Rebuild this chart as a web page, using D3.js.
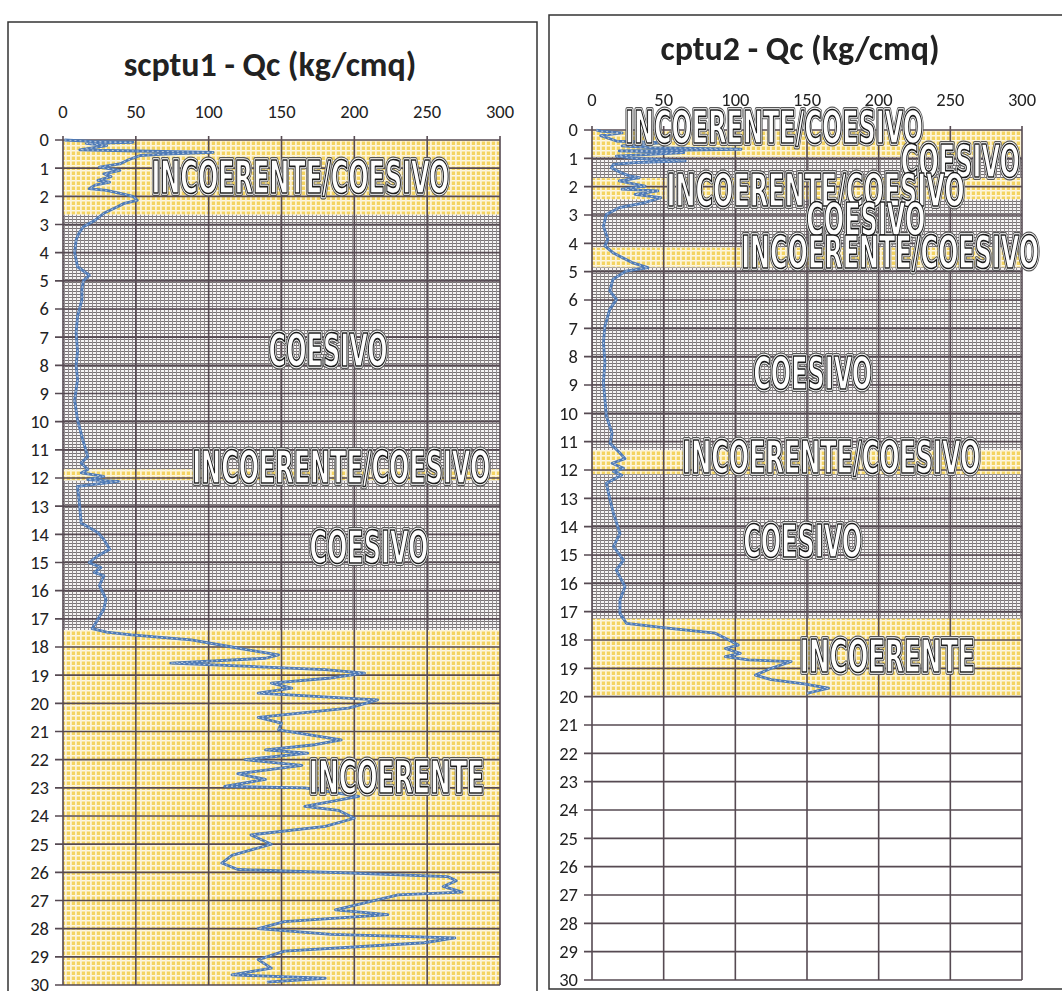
<!DOCTYPE html>
<html lang="it">
<head>
<meta charset="utf-8">
<title>scptu1 / cptu2 - Qc</title>
<script src="https://cdn.jsdelivr.net/npm/d3@7/dist/d3.min.js"></script>
<style>
    body { margin: 0; background: #fff; }
    .tick-lbl { font-family: Carlito, Lato, "Liberation Sans", sans-serif; font-size: 18.5px; fill: #222; }
    .title { font-family: Carlito, Lato, "Liberation Sans", sans-serif; font-size: 34px; font-weight: bold; fill: #222; }
    .layer-lbl { font-family: "Liberation Sans Narrow", "DejaVu Sans Condensed", "Liberation Sans", sans-serif; font-weight: bold; font-size: 45px; }
    .lbl-group { opacity: 0.995; will-change: transform; }
</style>
</head>
<body>
<div id="chart"></div>
<script>

var qcTicks = [0, 50, 100, 150, 200, 250, 300];
var depthTicks = d3.range(0, 31);

// scptu1
var depth1 = [0, 0.05, 0.08, 0.12, 0.2, 0.35, 0.4, 0.44, 0.5, 0.55,
    0.7, 0.85, 0.96, 1.08, 1.2, 1.3, 1.43, 1.5, 1.6, 1.73,
    1.79, 1.9, 2.0, 2.14, 2.25, 2.38, 2.6, 2.85, 3.08, 3.3,
    3.55, 4.0, 4.5, 4.8, 5.0, 5.3, 5.67, 6.26, 6.85, 7.5,
    8.0, 8.5, 9.24, 9.94, 10.65, 11.24, 11.47, 11.7, 11.82, 11.94,
    12.06, 12.12, 12.3, 12.76, 13.6, 13.94, 14.18, 14.53, 14.76, 15.0,
    15.18, 15.35, 15.47, 15.82, 16.3, 16.65, 17.1, 17.35, 17.47, 17.57,
    17.75, 18.0, 18.1, 18.28, 18.4, 18.57, 18.8, 18.93, 19.1, 19.28,
    19.46, 19.64, 19.88, 20.17, 20.5, 20.7, 20.94, 21.3, 21.47, 21.65,
    21.77, 22.0, 22.2, 22.5, 22.7, 22.95, 23.0, 23.3, 23.66, 23.8,
    24.08, 24.37, 24.67, 25.0, 25.4, 25.67, 25.9, 26.0, 26.15, 26.3,
    26.5, 26.7, 26.8, 27.33, 27.5, 27.75, 28.0, 28.2, 28.33, 28.5,
    28.8, 29.1, 29.4, 29.64, 29.76, 29.9];
var qc1 = [1, 20, 48, 16, 30, 11.5, 60, 103, 70, 53,
    45, 39, 25, 39, 28, 33, 24, 32, 22, 18,
    30, 40, 48, 51, 42, 37, 28, 22, 14, 11,
    9, 8, 10, 18, 14, 13, 13, 10, 9, 10,
    9, 10, 8, 10, 13.6, 17, 12.5, 17, 12.5, 28,
    17, 38, 10, 11, 12.5, 24, 28, 32, 24, 18,
    26, 21.5, 28, 25, 29.5, 28, 23, 20, 30, 47,
    88, 116, 127, 148, 139, 74, 180, 207, 184, 143,
    157, 134, 216, 196, 134, 150, 148, 191, 173, 139,
    168, 125, 164, 120, 139, 111, 166, 203, 166, 189,
    200, 180, 129, 143, 116, 109, 120, 184, 264, 270,
    261, 274, 230, 187, 223, 152, 134, 184, 269, 248,
    152, 134, 143, 116, 180, 140];

// cptu2
var depth2 = [0, 0.04, 0.1, 0.2, 0.3, 0.39, 0.45, 0.56, 0.62, 0.68,
    0.74, 0.8, 0.92, 1.0, 1.09, 1.15, 1.21, 1.33, 1.5, 1.62,
    1.68, 1.8, 1.98, 2.09, 2.15, 2.27, 2.39, 2.56, 2.74, 2.98,
    3.39, 3.86, 4.09, 4.33, 4.5, 4.68, 4.86, 4.98, 5.27, 5.68,
    5.98, 6.33, 6.92, 7.5, 8.2, 8.9, 9.5, 10.1, 10.7, 11.06,
    11.4, 11.6, 11.76, 11.94, 12.06, 12.18, 12.47, 13.06, 13.53, 14.24,
    14.7, 15.18, 15.53, 16.12, 16.59, 17.06, 17.41, 17.6, 17.76, 18.0,
    18.18, 18.3, 18.47, 18.59, 18.7, 18.76, 19.0, 19.24, 19.4, 19.55,
    19.7, 19.88];
var qc2 = [3, 6, 21, 6, 12, 17, 48, 21, 40, 104,
    19, 64, 17, 30, 65, 30, 15, 13.5, 20, 26,
    33, 19, 37, 21, 46, 30, 48, 37, 19, 10,
    8, 11, 9, 14.6, 21, 28, 39, 23.6, 14.6, 12.4,
    17, 12.4, 9, 8, 9, 8, 9, 10, 14, 12.6,
    19.5, 23, 14, 22, 15, 20.7, 10, 12.6, 15, 19.5,
    15, 22, 17, 23, 19.5, 19.5, 24, 56, 86, 95.5,
    102, 93, 103.5, 93, 109, 139, 125, 114, 125, 148,
    165, 150];

// soil layers (depth from / to, type)
var layerTop1 = [0, 2.65, 11.7, 12.1, 17.4];
var layerBottom1 = [2.65, 11.7, 12.1, 17.4, 30];
var layerType1 = ["INCOERENTE/COESIVO", "COESIVO", "INCOERENTE/COESIVO", "COESIVO", "INCOERENTE"];

var layerTop2 = [0, 0.95, 1.7, 2.45, 4.15, 4.85, 11.3, 12.15, 17.25];
var layerBottom2 = [0.95, 1.7, 2.45, 4.15, 4.85, 11.3, 12.15, 17.25, 20];
var layerType2 = ["INCOERENTE/COESIVO", "COESIVO", "INCOERENTE/COESIVO", "COESIVO",
    "INCOERENTE/COESIVO", "COESIVO", "INCOERENTE/COESIVO", "COESIVO", "INCOERENTE"];

// written labels on the charts
var labelText1 = ["INCOERENTE/COESIVO", "COESIVO", "INCOERENTE/COESIVO", "COESIVO", "INCOERENTE"];
var labelText2 = ["INCOERENTE/COESIVO", "COESIVO", "INCOERENTE/COESIVO", "COESIVO",
    "INCOERENTE/COESIVO", "COESIVO", "INCOERENTE/COESIVO", "COESIVO", "INCOERENTE"];

var width = 1062, height = 991;

var svg = d3.select("#chart").append("svg")
    .attr("width", width)
    .attr("height", height);

var defs = svg.append("defs");

// yellow hatched fill
var py = defs.append("pattern").attr("id", "yel")
    .attr("patternUnits", "userSpaceOnUse").attr("width", 5).attr("height", 5);
py.append("rect").attr("width", 5).attr("height", 5).attr("fill", "#f4d461");
py.append("rect").attr("width", 5).attr("height", 1.5).attr("fill", "#fdf7e2");
py.append("rect").attr("width", 1.8).attr("height", 5).attr("fill", "#fcf3d6");

// grey grid fill
var pg = defs.append("pattern").attr("id", "gry")
    .attr("patternUnits", "userSpaceOnUse").attr("width", 4).attr("height", 3);
pg.append("rect").attr("width", 4).attr("height", 3).attr("fill", "#f6f4f4");
pg.append("rect").attr("width", 4).attr("height", 1).attr("fill", "#777274");
pg.append("rect").attr("width", 1).attr("height", 3).attr("fill", "#928c8e");

// frames
svg.append("rect").attr("x", 8).attr("y", 22).attr("width", 529).attr("height", 990)
    .attr("fill", "none").attr("stroke", "#333").attr("stroke-width", 1.5);
svg.append("rect").attr("x", 549).attr("y", 15).attr("width", 530).attr("height", 974)
    .attr("fill", "none").attr("stroke", "#333").attr("stroke-width", 1.5);

function drawChart(cfg) {
    var g = svg.append("g");

    var x = d3.scaleLinear().domain([0, 300]).range([cfg.x0, cfg.x1]);
    var y = d3.scaleLinear().domain([0, 30]).range([cfg.y0, cfg.y1]);

    // layer bands
    var layers = cfg.top.map(function(t, i) {
        return {top: t, bottom: cfg.bottom[i], type: cfg.type[i]};
    });
    g.selectAll(".band")
        .data(layers).enter()
        .append("rect")
        .attr("class", "band")
        .attr("x", x(0))
        .attr("y", function(d) { return y(d.top); })
        .attr("width", x(300) - x(0))
        .attr("height", function(d) { return y(d.bottom) - y(d.top); })
        .attr("fill", function(d) { return d.type == "COESIVO" ? "url(#gry)" : "url(#yel)"; });

    // main grid
    g.selectAll(".vgrid")
        .data(qcTicks).enter()
        .append("line")
        .attr("x1", function(d) { return x(d); })
        .attr("x2", function(d) { return x(d); })
        .attr("y1", y(0) - 4)
        .attr("y2", y(30))
        .attr("stroke", "#564a52")
        .attr("stroke-width", 1.6);

    g.selectAll(".hgrid")
        .data(depthTicks).enter()
        .append("line")
        .attr("x1", x(0) - 8)
        .attr("x2", x(300))
        .attr("y1", function(d) { return y(d); })
        .attr("y2", function(d) { return y(d); })
        .attr("stroke", "#564a52")
        .attr("stroke-width", 1.6);

    // axis labels
    g.selectAll(".xl")
        .data(qcTicks).enter()
        .append("text")
        .attr("class", "tick-lbl")
        .attr("x", function(d) { return x(d); })
        .attr("y", cfg.xLabelY)
        .attr("text-anchor", "middle")
        .text(function(d) { return d; });

    g.selectAll(".yl")
        .data(depthTicks).enter()
        .append("text")
        .attr("class", "tick-lbl")
        .attr("x", x(0) - 14)
        .attr("y", function(d) { return y(d); })
        .attr("dy", "0.35em")
        .attr("text-anchor", "end")
        .text(function(d) { return d; });

    // title
    g.append("text")
        .attr("class", "title")
        .attr("x", cfg.titleX)
        .attr("y", cfg.titleY)
        .attr("text-anchor", "middle")
        .text(cfg.title);

    // qc profile
    var pts = cfg.depth.map(function(d, i) { return [cfg.qc[i], d]; });
    var line = d3.line()
        .x(function(d) { return x(d[0]); })
        .y(function(d) { return y(d[1]); });

    g.append("path")
        .datum(pts)
        .attr("d", line)
        .attr("fill", "none")
        .attr("stroke", "#4d79b6")
        .attr("stroke-width", 2.8)
        .attr("stroke-linejoin", "round");
    g.append("path")
        .datum(pts)
        .attr("d", line)
        .attr("fill", "none")
        .attr("stroke", "#b9c8da")
        .attr("stroke-width", 1)
        .attr("stroke-dasharray", "2,3");

    // outlined layer names
    var widths = {"INCOERENTE/COESIVO": 298, "COESIVO": 119, "INCOERENTE": 175};
    var labels = cfg.labels.map(function(t, i) {
        return {text: t, qc: cfg.labelQc[i], depth: cfg.labelDepth[i]};
    });
    var lg = g.append("g").attr("class", "lbl-group");
    [{s: "#555", w: 6, f: "none"}, {s: "#fff", w: 3.6, f: "none"}, {s: "#1a1a1a", w: 1.6, f: "#fff"}]
        .forEach(function(st) {
            lg.selectAll(null)
                .data(labels).enter()
                .append("text")
                .attr("class", "layer-lbl")
                .attr("x", function(d) { return x(d.qc); })
                .attr("y", function(d) { return y(d.depth) + 16; })
                .attr("text-anchor", "middle")
                .attr("textLength", function(d) { return widths[d.text]; })
                .attr("lengthAdjust", "spacingAndGlyphs")
                .attr("fill", st.f)
                .attr("stroke", st.s)
                .attr("stroke-width", st.w)
                .attr("stroke-linejoin", "round")
                .text(function(d) { return d.text; });
        });
}

drawChart({
    title: "scptu1 - Qc (kg/cmq)", titleX: 270, titleY: 76,
    x0: 63, x1: 500, y0: 140, y1: 985, xLabelY: 118,
    depth: depth1, qc: qc1,
    top: layerTop1, bottom: layerBottom1, type: layerType1,
    labels: labelText1,
    labelQc: [163, 182, 191, 210, 229],
    labelDepth: [1.31, 7.45, 11.6, 14.45, 22.6]
});

drawChart({
    title: "cptu2 - Qc (kg/cmq)", titleX: 800, titleY: 60,
    x0: 592, x1: 1022, y0: 130, y1: 980, xLabelY: 106,
    depth: depth2, qc: qc2,
    top: layerTop2, bottom: layerBottom2, type: layerType2,
    labels: labelText2,
    labelQc: [127, 257, 156, 191, 208, 154, 167, 147, 206],
    labelDepth: [-0.1, 1.09, 2.12, 3.14, 4.3, 8.58, 11.54, 14.5, 18.57]
});

</script>
</body>
</html>
